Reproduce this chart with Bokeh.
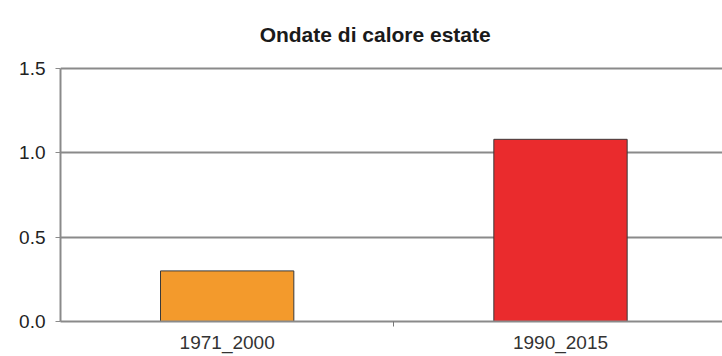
from bokeh.plotting import figure
from bokeh.models import Range1d, FixedTicker, ColumnDataSource, Label
from bokeh.embed import file_html
from bokeh.resources import INLINE

# Heat-wave index by reference period
periods = ["1971_2000", "1990_2015"]
values = [0.30, 1.08]
colors = ["#F39A2C", "#EA2B2D"]

y_ticks = [0.0, 0.5, 1.0, 1.5]
chart_title = "Ondate di calore estate"

# bars sit at the middle of each unit-wide category slot
x_pos = [i + 0.5 for i in range(len(periods))]
src = ColumnDataSource(dict(x=x_pos, top=values, color=colors))

# the frame runs to the top of the canvas; the headroom above 1.5 holds the title
p = figure(width=722, height=356, output_backend="svg", toolbar_location=None,
           title=None,
           x_range=Range1d(0, 1.986), y_range=Range1d(0, 1.903),
           min_border_left=60, min_border_right=0, min_border_top=0,
           min_border_bottom=35, background_fill_color="white",
           border_fill_color="white", outline_line_color=None)

p.add_layout(Label(text=chart_title, x=0.944, y=1.70,
                   text_font="Liberation Sans", text_font_size="21px",
                   text_font_style="bold", text_color="#1a1a1a",
                   text_align="center", text_baseline="alphabetic"))

p.vbar(x="x", top="top", bottom=0, width=0.4, source=src,
       fill_color="color", line_color="#3a3a3a", line_width=1)

# x axis: labels under bars, small tick between categories
p.xaxis.ticker = FixedTicker(ticks=x_pos, minor_ticks=[1.0])
p.xaxis.major_label_overrides = {x: lab for x, lab in zip(x_pos, periods)}
p.xaxis.major_tick_out = 0
p.xaxis.major_tick_in = 0
p.xaxis.minor_tick_out = 5
p.xaxis.minor_tick_in = 0
p.xaxis.minor_tick_line_color = "#777777"
p.xaxis.axis_line_color = "#8a8a8a"
p.xaxis.axis_line_width = 2
p.xaxis.major_label_text_font = "Liberation Sans"
p.xaxis.major_label_text_font_size = "19px"
p.xaxis.major_label_text_color = "#333333"
p.xaxis.major_label_standoff = 5

# y axis, its line stopping at the top tick
p.yaxis.ticker = FixedTicker(ticks=y_ticks)
p.yaxis.bounds = (0, 1.5)
p.yaxis.major_label_overrides = {t: f"{t:.1f}" for t in y_ticks}
p.yaxis.axis_line_color = "#8a8a8a"
p.yaxis.axis_line_width = 2
p.yaxis.major_tick_out = 5
p.yaxis.major_tick_in = 0
p.yaxis.major_tick_line_color = "#8a8a8a"
p.yaxis.minor_tick_line_color = None
p.yaxis.major_label_text_font = "Liberation Sans"
p.yaxis.major_label_text_font_size = "19px"
p.yaxis.major_label_text_color = "#222222"
p.yaxis.major_label_standoff = 10

p.xgrid.grid_line_color = None
p.ygrid.grid_line_color = "#8a8a8a"
p.ygrid.grid_line_width = 2

open("out.html", "w").write(file_html(p, INLINE))
